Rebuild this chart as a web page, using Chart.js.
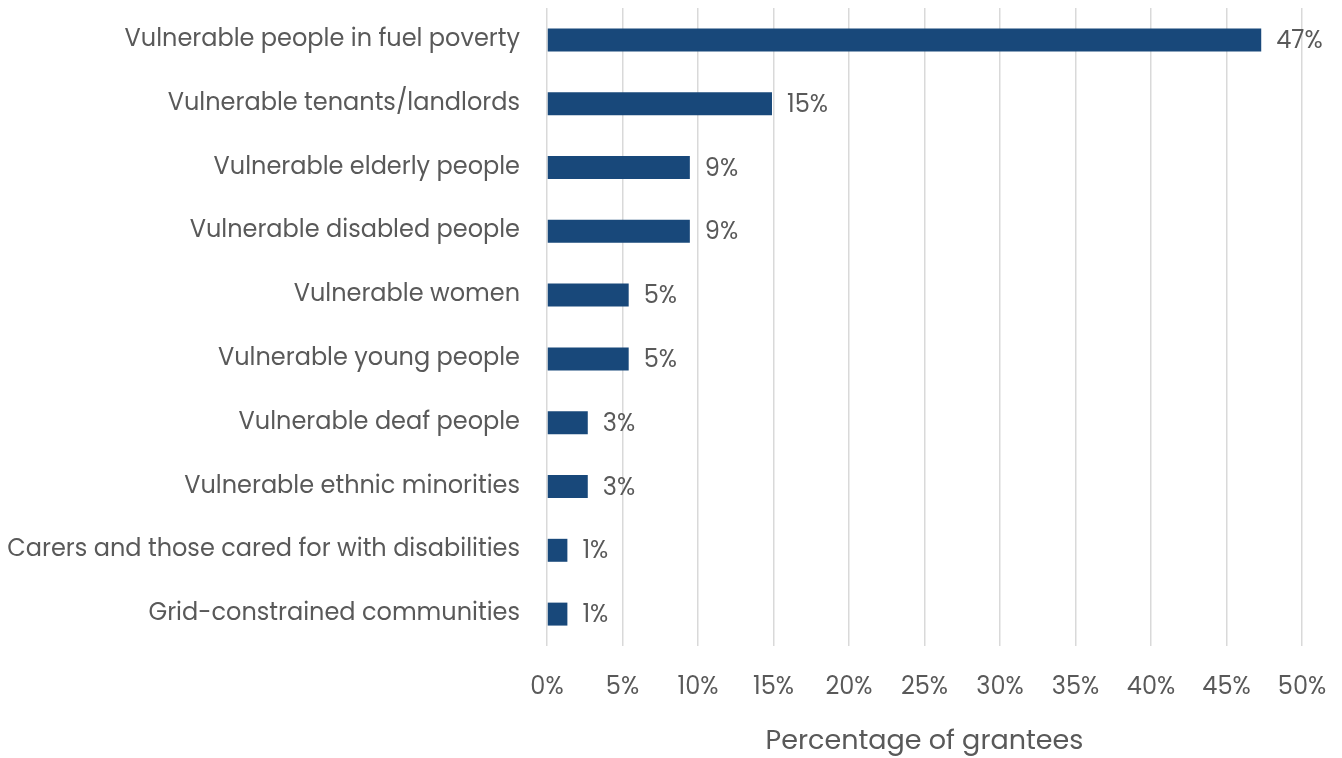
<!DOCTYPE html>
<html>
<head>
<meta charset="utf-8">
<script src="https://cdn.jsdelivr.net/npm/chart.js@4/dist/chart.umd.min.js"></script>
<style>
    html, body { margin: 0; padding: 0; background: #ffffff; }
    #wrap { width: 1342px; height: 758px; }
</style>
</head>
<body>
<div id="wrap"><canvas id="chart" width="1342" height="758"></canvas></div>
<script>

// Zielgruppen der Förderprojekte, Anteil an allen Grantees (in %)
const groups = [
    'Vulnerable people in fuel poverty',
    'Vulnerable tenants/landlords',
    'Vulnerable elderly people',
    'Vulnerable disabled people',
    'Vulnerable women',
    'Vulnerable young people',
    'Vulnerable deaf people',
    'Vulnerable ethnic minorities',
    'Carers and those cared for with disabilities',
    'Grid-constrained communities'
];
const shares = [47.3, 14.9, 9.46, 9.46, 5.41, 5.41, 2.7, 2.7, 1.35, 1.35];
const xTicks = [0, 5, 10, 15, 20, 25, 30, 35, 40, 45, 50];
const axisTitle = 'Percentage of grantees';

const FONT = "'Poppins', 'Open Sans', sans-serif";
const TEXT = '#595959';
const BAR = '#18487a';
const GRID = '#d9d9d9';

// Schreibt den Prozentwert rechts neben jeden Balken
const valueLabels = {
    id: 'valueLabels',
    afterDatasetsDraw(chart) {
        let ctx = chart.ctx;
        let meta = chart.getDatasetMeta(0);
        ctx.save();
        ctx.font = '24px ' + FONT;
        ctx.fillStyle = TEXT;
        ctx.textAlign = 'left';
        ctx.textBaseline = 'middle';
        for (let i = 0; i < meta.data.length; i++) {
            let bar = meta.data[i];
            ctx.fillText(Math.round(shares[i]) + '%', bar.x + 15, bar.y + 2);
        }
        ctx.restore();
    }
};

let ctx = document.getElementById('chart').getContext('2d');

let chart = new Chart(ctx, {
    type: 'bar',
    data: {
        labels: groups,
        datasets: [{
            data: shares,
            backgroundColor: BAR,
            borderWidth: 0,
            categoryPercentage: 1,
            barPercentage: 0.36
        }]
    },
    options: {
        indexAxis: 'y',
        responsive: false,
        animation: false,
        layout: { padding: { top: 8, right: 40, bottom: 0, left: 0 } },
        plugins: {
            legend: { display: false },
            tooltip: { enabled: false }
        },
        scales: {
            x: {
                min: 0,
                max: 50,
                afterBuildTicks: function (scale) {
                    scale.ticks = xTicks.map(v => ({ value: v }));
                },
                afterFit: function (scale) {
                    // feste Höhe, keine Zusatzränder links/rechts
                    scale.height = 112;
                    scale.paddingLeft = 0;
                    scale.paddingRight = 0;
                },
                grid: { color: GRID, lineWidth: 1.5, drawTicks: false },
                border: { display: false },
                ticks: {
                    padding: 28,
                    color: TEXT,
                    font: { family: FONT, size: 24 },
                    callback: v => v + '%'
                },
                title: {
                    display: true,
                    text: axisTitle,
                    color: TEXT,
                    font: { family: FONT, size: 27 },
                    padding: { top: 0, bottom: 0 }
                }
            },
            y: {
                afterFit: function (scale) {
                    scale.width = 547;
                    scale.paddingTop = 0;
                    scale.paddingBottom = 0;
                },
                grid: { display: false, drawTicks: false },
                border: { display: false },
                ticks: {
                    padding: 27,
                    color: TEXT,
                    font: { family: FONT, size: 24 }
                }
            }
        }
    },
    plugins: [valueLabels]
});

</script>
</body>
</html>
